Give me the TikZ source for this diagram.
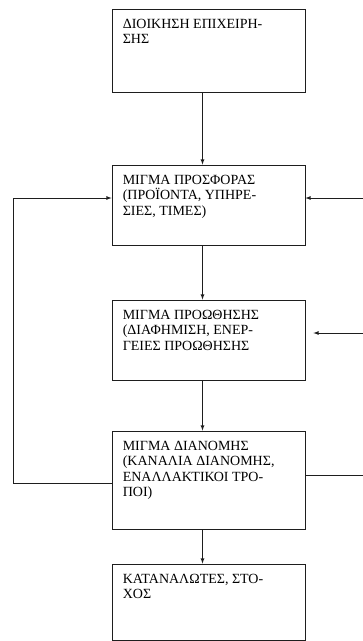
\documentclass[tikz,border=0pt]{standalone}
\usepackage{fontspec}
\setmainfont{Liberation Serif}
\usetikzlibrary{calc}

\begin{document}
\begin{tikzpicture}[x=1pt, y=-1pt, >=latex,
    box/.style={draw=borderColour, line width=0.8pt, minimum width=193pt, inner sep=0pt},
    boxText/.style={anchor=north west, align=left, inner sep=0pt, text=textColour,
        font=\fontsize{14}{15.5}\selectfont},
    link/.style={draw=borderColour, line width=0.8pt}]
    % Define colours
    \definecolor{borderColour}{HTML}{1E1E1E}
    \definecolor{textColour}{HTML}{000000}

    % Fix the page size
    \useasboundingbox (0,0) rectangle (363,641);

    % Draw the boxes
    \node[box, minimum height=83pt] (b1) at (208.5,50.5) {};
    \node[box, minimum height=80pt] (b2) at (208.5,205) {};
    \node[box, minimum height=80pt] (b3) at (208.5,340) {};
    \node[box, minimum height=98pt] (b4) at (208.5,480) {};
    \node[box, minimum height=76pt] (b5) at (208.5,602) {};

    % Write the texts
    \node[boxText] (t1) at ($(b1.north west)+(11,10)$) {ΔΙΟΙΚΗΣΗ ΕΠΙΧΕΙΡΗ-\\ΣΗΣ};
    \node[boxText] (t2) at ($(b2.north west)+(11,10)$) {ΜΙΓΜΑ ΠΡΟΣΦΟΡΑΣ\\(ΠΡΟΪΟΝΤΑ, ΥΠΗΡΕ-\\ΣΙΕΣ, ΤΙΜΕΣ)};
    \node[boxText] (t3) at ($(b3.north west)+(11,10)$) {ΜΙΓΜΑ ΠΡΟΩΘΗΣΗΣ\\(ΔΙΑΦΗΜΙΣΗ, ΕΝΕΡ-\\ΓΕΙΕΣ ΠΡΟΩΘΗΣΗΣ};
    \node[boxText] (t4) at ($(b4.north west)+(11,10)$) {ΜΙΓΜΑ ΔΙΑΝΟΜΗΣ\\(ΚΑΝΑΛΙΑ ΔΙΑΝΟΜΗΣ,\\ΕΝΑΛΛΑΚΤΙΚΟΙ ΤΡΟ-\\ΠΟΙ)};
    \node[boxText] (t5) at ($(b5.north west)+(11,10)$) {ΚΑΤΑΝΑΛΩΤΕΣ, ΣΤΟ-\\ΧΟΣ};

    % Draw the main chain
    \foreach \a/\b in {b1/b2, b2/b3, b3/b4, b4/b5}
        \draw[link, ->] ($(\a.south)+(-6,0)$) -- ($(\b.north)+(-6,0)$);

    % Draw the feedback loop on the left
    \coordinate (loopBottom) at (13,483);
    \coordinate (loopTop) at (13,198);
    \draw[link, ->] (b4.west |- loopBottom) -- (loopBottom) -- (loopTop) -- (b2.west |- loopTop);

    % Draw the lines on the right
    \coordinate (rightIn2) at (363,198);
    \coordinate (rightIn3) at (363,333);
    \coordinate (rightOut4) at (363,475);
    \draw[link, ->] (rightIn2) -- (b2.east |- rightIn2);
    \draw[link, ->, shorten >=8pt] (rightIn3) -- (b3.east |- rightIn3);
    \draw[link] (b4.east |- rightOut4) -- (rightOut4);

\end{tikzpicture}
\end{document}
